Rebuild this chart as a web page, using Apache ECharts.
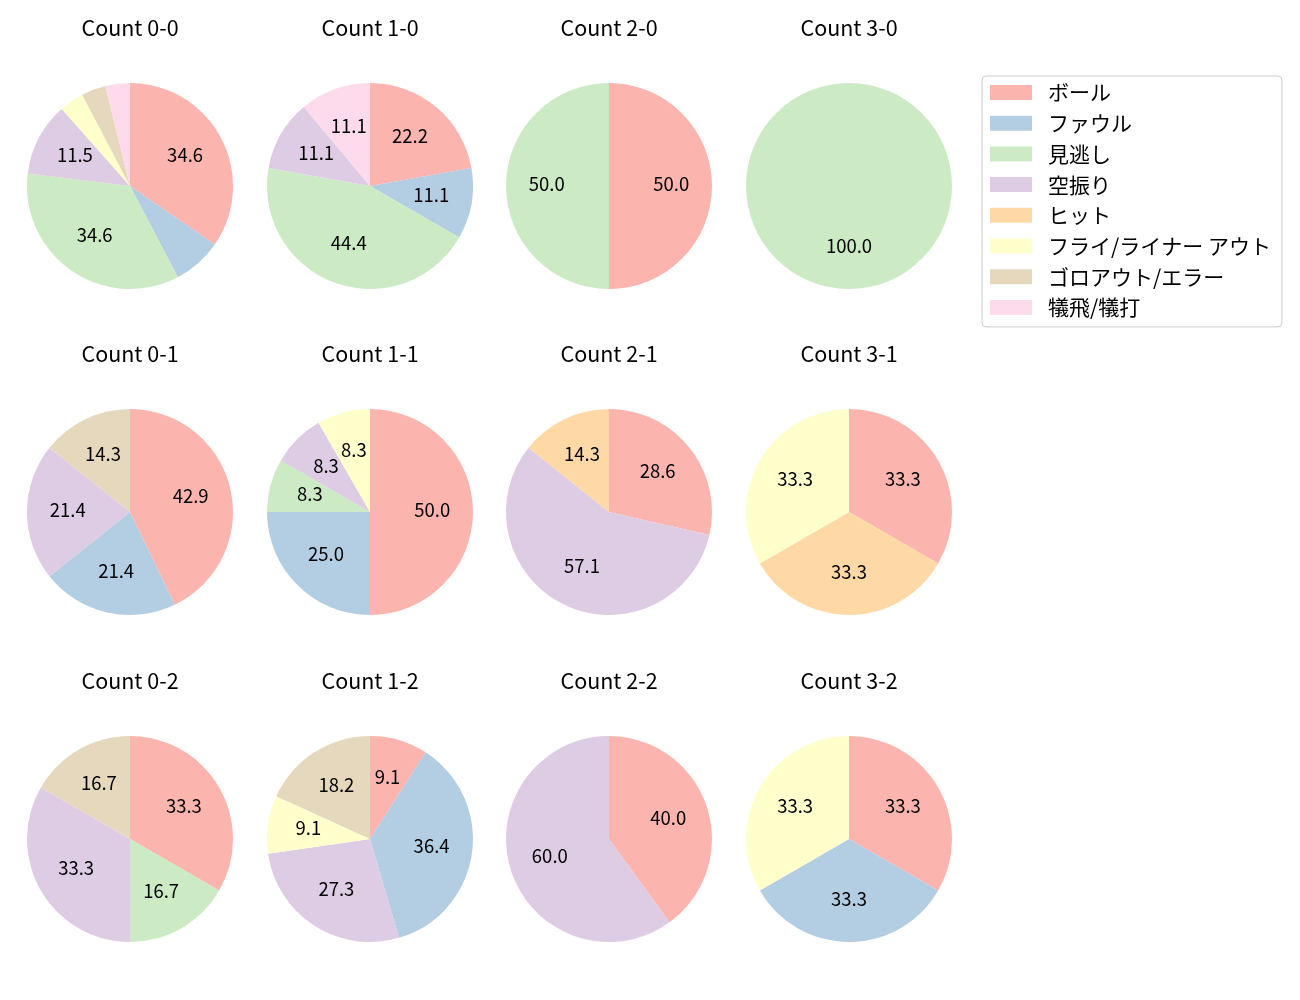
<!DOCTYPE html>
<html>
<head>
<meta charset="utf-8">
<script src="https://cdn.jsdelivr.net/npm/echarts@6/dist/echarts.min.js"></script>
<style>
  html, body { margin: 0; padding: 0; background: #fff; }
  #chart { width: 1300px; height: 1000px; }
</style>
</head>
<body>
<div id="chart"></div>
<script>
// pitch result categories (legend order) and Pastel1 colours
const categories = ['ボール', 'ファウル', '見逃し', '空振り', 'ヒット', 'フライ/ライナー アウト', 'ゴロアウト/エラー', '犠飛/犠打'];
const colors = ['#fbb4ae', '#b3cde3', '#ccebc5', '#decbe4', '#fed9a6', '#ffffcc', '#e5d8bd', '#fddaec'];

// pitch counts per ball-strike count, in category order
const count00 = [9, 2, 9, 3, 0, 1, 1, 1];
const count10 = [2, 1, 4, 1, 0, 0, 0, 1];
const count20 = [1, 0, 1, 0, 0, 0, 0, 0];
const count30 = [0, 0, 1, 0, 0, 0, 0, 0];
const count01 = [6, 3, 0, 3, 0, 0, 2, 0];
const count11 = [6, 3, 1, 1, 0, 1, 0, 0];
const count21 = [2, 0, 0, 4, 1, 0, 0, 0];
const count31 = [1, 0, 0, 0, 1, 1, 0, 0];
const count02 = [2, 0, 1, 2, 0, 0, 1, 0];
const count12 = [1, 4, 0, 3, 0, 1, 2, 0];
const count22 = [2, 0, 0, 3, 0, 0, 0, 0];
const count32 = [1, 1, 0, 0, 0, 1, 0, 0];

const panels = [
  ['Count 0-0', count00], ['Count 1-0', count10], ['Count 2-0', count20], ['Count 3-0', count30],
  ['Count 0-1', count01], ['Count 1-1', count11], ['Count 2-1', count21], ['Count 3-1', count31],
  ['Count 0-2', count02], ['Count 1-2', count12], ['Count 2-2', count22], ['Count 3-2', count32]
];

const FONT = "'Noto Sans CJK JP', 'Noto Sans', sans-serif";
const colX = [130, 370, 609, 849];
const rowY = [186, 512, 839];
const R = 103;

const chart = echarts.init(document.getElementById('chart'));

const titles = [];
const pieSeries = [];
const labelSeries = [];

panels.forEach(([name, counts], i) => {
  const cx = colX[i % 4];
  const cy = rowY[Math.floor(i / 4)];
  const total = counts.reduce((a, b) => a + b, 0);
  const data = [];
  counts.forEach((v, k) => {
    if (v > 0) data.push({ name: categories[k], value: v, itemStyle: { color: colors[k] } });
  });

  titles.push({
    text: name,
    left: cx,
    top: cy - 169,
    textAlign: 'center',
    padding: 0,
    textStyle: { fontFamily: FONT, fontSize: 21.5, fontWeight: 'normal', color: '#000' }
  });

  pieSeries.push({
    type: 'pie',
    center: [cx, cy],
    radius: [0, R],
    startAngle: 90,
    clockwise: true,
    animation: false,
    label: { show: false },
    labelLine: { show: false },
    emphasis: { scale: false },
    itemStyle: { borderWidth: 0 },
    data: data
  });

  // transparent twin so that the inside label sits near 0.6 of the radius
  labelSeries.push({
    type: 'pie',
    center: [cx, cy],
    radius: [0, R * 1.15],
    startAngle: 90,
    clockwise: true,
    animation: false,
    silent: true,
    itemStyle: { color: 'rgba(0,0,0,0)', borderWidth: 0 },
    labelLine: { show: false },
    label: {
      show: true,
      position: 'inside',
      fontFamily: FONT,
      fontSize: 18.5,
      color: '#000',
      offset: [0, -2],
      formatter: p => {
        const pct = p.value / total * 100;
        return pct >= 8 ? pct.toFixed(1) : '';
      }
    },
    data: data.map(d => ({ name: d.name, value: d.value }))
  });
});

const option = {
  backgroundColor: '#fff',
  title: titles,
  legend: {
    orient: 'vertical',
    left: 982,
    top: 76,
    data: categories,
    icon: 'rect',
    itemWidth: 42,
    itemHeight: 15,
    itemGap: 9.7,
    padding: [6, 11, 9, 8],
    borderColor: '#cccccc',
    borderWidth: 1,
    borderRadius: 4,
    selectedMode: false,
    textStyle: {
      fontFamily: FONT,
      fontSize: 21,
      color: '#000',
      lineHeight: 21,
      padding: [0, 0, 0, 11]
    }
  },
  series: pieSeries.concat(labelSeries)
};

chart.setOption(option);
</script>
</body>
</html>
